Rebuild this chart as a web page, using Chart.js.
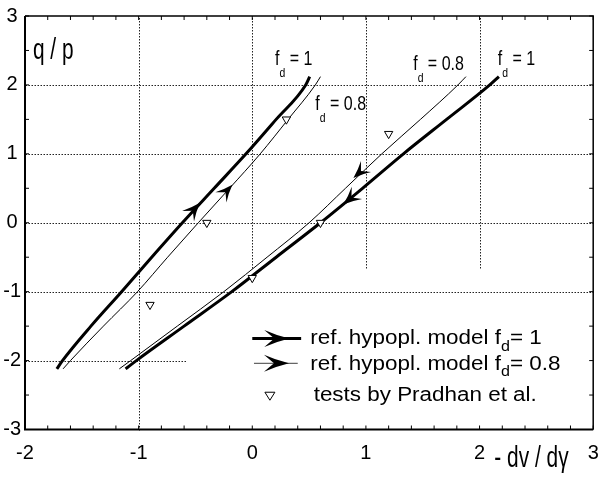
<!DOCTYPE html>
<html lang="en">
<head>
<meta charset="utf-8">
<title>q/p against -dv/dγ</title>
<script src="https://cdn.jsdelivr.net/npm/chart.js@4.4.0/dist/chart.umd.min.js"></script>
<style>
  body { margin: 0; background: #fff; }
  #wrap { width: 599px; height: 481px; }
</style>
</head>
<body>
<div id="wrap"><canvas id="myChart" width="599" height="481"></canvas></div>
<script>
// hypoplastic model, f_d = 1 (thick) : loading and unloading branches
var fd1LoadX = [-1.72, -1.67, -1.42, -1.15, -0.885, -0.615, -0.335, -0.055, 0.21, 0.47, 0.505];
var fd1LoadY = [-2.12, -2.00, -1.50, -1.00, -0.50, 0.00, 0.50, 1.00, 1.50, 2.00, 2.12];
var fd1UnloadX = [-1.115, -1.02, -0.60, -0.18, 0.21, 0.60, 0.97, 1.33, 1.71, 2.09, 2.17];
var fd1UnloadY = [-2.12, -2.00, -1.50, -1.00, -0.50, 0.00, 0.50, 1.00, 1.50, 2.00, 2.12];

// hypoplastic model, f_d = 0.8 (thin)
var fd08LoadX = [-1.665, -1.60, -1.31, -1.01, -0.745, -0.475, -0.20, 0.07, 0.315, 0.555, 0.60];
var fd08LoadY = [-2.12, -2.00, -1.50, -1.00, -0.50, 0.00, 0.50, 1.00, 1.50, 2.00, 2.12];
var fd08UnloadX = [-1.17, -1.07, -0.66, -0.25, 0.13, 0.50, 0.82, 1.14, 1.48, 1.81, 1.88];
var fd08UnloadY = [-2.12, -2.00, -1.50, -1.00, -0.50, 0.00, 0.50, 1.00, 1.50, 2.00, 2.12];

// tests by Pradhan et al.
var testX = [0.30, 1.20, -0.40, 0.60, 0.00, -0.90];
var testY = [1.50, 1.29, 0.00, 0.00, -0.80, -1.19];

// arrow heads: [tailX, tailY, tipX, tipY]
var arrowsThick = [[-0.56, 0.105, -0.46, 0.29], [0.90, 0.405, 0.80, 0.265]];
var arrowsThin = [[-0.275, 0.37, -0.175, 0.55], [0.99, 0.80, 0.89, 0.65]];

var xTicks = [-2, -1, 0, 1, 2, 3];
var yTicks = [-3, -2, -1, 0, 1, 2, 3];

function pts(xs, ys) {
  var out = [];
  for (var i = 0; i < xs.length; i++) out.push({x: xs[i], y: ys[i]});
  return out;
}

var NARROW = "'Liberation Sans Narrow', 'Liberation Sans', sans-serif";
var SANS = "'Liberation Sans', Arial, sans-serif";

function P(chart, x, y) {
  return [chart.scales.x.getPixelForValue(x), chart.scales.y.getPixelForValue(y)];
}

// text with a horizontal squeeze/stretch, returns drawn width
function txt(ctx, s, x, y, size, sx, family) {
  ctx.save();
  ctx.translate(x, y);
  ctx.scale(sx, 1);
  ctx.font = size + 'px ' + family;
  ctx.textBaseline = 'alphabetic';
  ctx.textAlign = 'left';
  ctx.fillText(s, 0, 0);
  var w = ctx.measureText(s).width * sx;
  ctx.restore();
  return w;
}

function arrowHead(ctx, tail, tip, len, half) {
  var a = Math.atan2(tip[1] - tail[1], tip[0] - tail[0]);
  ctx.save();
  ctx.translate(tip[0], tip[1]);
  ctx.rotate(a);
  ctx.beginPath();
  ctx.moveTo(0, 0);
  ctx.quadraticCurveTo(-len * 0.55, half * 0.4, -len, half);
  ctx.lineTo(-len * 0.6, 0);
  ctx.lineTo(-len, -half);
  ctx.quadraticCurveTo(-len * 0.55, -half * 0.4, 0, 0);
  ctx.closePath();
  ctx.fillStyle = '#000';
  ctx.fill();
  ctx.restore();
}

// "f" with subscript d, then the rest
function fdLabel(ctx, x, y, rest, size, sx, subSize, drop, family) {
  var w = txt(ctx, 'f', x, y, size, sx, family);
  w += txt(ctx, 'd', x + w, y + drop, subSize, sx, family);
  w += txt(ctx, rest, x + w, y, size, sx, family);
  return w;
}

var decor = {
  id: 'decor',
  beforeDatasetsDraw: function(chart) {
    var ctx = chart.ctx;
    ctx.save();
    ctx.strokeStyle = '#222';
    ctx.lineWidth = 1;
    ctx.setLineDash([1.5, 1.5]);
    // dotted grid, cut away where the key sits
    var segs = [
      [-1, -3, -1, 3], [0, -0.65, 0, 3], [1, -0.65, 1, 3], [2, -0.65, 2, 3],
      [-2, 2, 3, 2], [-2, 1, 3, 1], [-2, 0, 3, 0], [-2, -1, 3, -1], [-2, -2, -0.58, -2]
    ];
    segs.forEach(function(s) {
      var a = P(chart, s[0], s[1]), b = P(chart, s[2], s[3]);
      ctx.beginPath();
      ctx.moveTo(Math.round(a[0]) + 0.5, Math.round(a[1]) + 0.5);
      ctx.lineTo(Math.round(b[0]) + 0.5, Math.round(b[1]) + 0.5);
      ctx.stroke();
    });
    ctx.restore();
  },
  afterDatasetsDraw: function(chart) {
    var ctx = chart.ctx, ca = chart.chartArea;
    ctx.save();
    // frame
    ctx.strokeStyle = '#000';
    ctx.lineWidth = 2;
    ctx.beginPath();
    ctx.moveTo(ca.left, ca.top); ctx.lineTo(ca.left, ca.bottom); ctx.lineTo(ca.right, ca.bottom);
    ctx.stroke();
    ctx.lineWidth = 1.5;
    ctx.beginPath();
    ctx.moveTo(ca.left, ca.top); ctx.lineTo(ca.right, ca.top); ctx.lineTo(ca.right, ca.bottom);
    ctx.stroke();
    // inward minor ticks
    ctx.lineWidth = 1;
    var i, p;
    for (i = -20; i <= 30; i += 2) {
      p = chart.scales.x.getPixelForValue(i / 10);
      ctx.beginPath();
      ctx.moveTo(p, ca.top); ctx.lineTo(p, ca.top + 4);
      ctx.moveTo(p, ca.bottom); ctx.lineTo(p, ca.bottom - 4);
      ctx.stroke();
    }
    for (i = -30; i <= 30; i += 5) {
      p = chart.scales.y.getPixelForValue(i / 10);
      ctx.beginPath();
      ctx.moveTo(ca.left, p); ctx.lineTo(ca.left + 4, p);
      ctx.moveTo(ca.right, p); ctx.lineTo(ca.right - 4, p);
      ctx.stroke();
    }
    // direction arrows on the curves
    arrowsThick.forEach(function(a) {
      arrowHead(ctx, P(chart, a[0], a[1]), P(chart, a[2], a[3]), 18, 8);
    });
    arrowsThin.forEach(function(a) {
      arrowHead(ctx, P(chart, a[0], a[1]), P(chart, a[2], a[3]), 17, 7.5);
    });

    ctx.fillStyle = '#000';
    // axis titles
    var q = P(chart, -1.93, 2.38);
    txt(ctx, 'q / p', q[0], q[1], 29, 0.72, SANS);
    var d = P(chart, 2.13, -3.55);
    txt(ctx, '- dv / dγ', d[0], d[1], 29, 0.72, SANS);

    // curve labels
    var l;
    l = P(chart, 0.20, 2.29); fdLabel(ctx, l[0], l[1], ' = 1', 20, 0.8, 13, 12, SANS);
    l = P(chart, 0.555, 1.64); fdLabel(ctx, l[0], l[1], ' = 0.8', 20, 0.8, 13, 12, SANS);
    l = P(chart, 1.416, 2.22); fdLabel(ctx, l[0], l[1], ' = 0.8', 20, 0.8, 13, 12, SANS);
    l = P(chart, 2.16, 2.29); fdLabel(ctx, l[0], l[1], ' = 1', 20, 0.8, 13, 12, SANS);

    // key symbols
    var a0 = P(chart, 0.0, -1.68), a1 = P(chart, 0.43, -1.68);
    ctx.strokeStyle = '#000';
    ctx.lineWidth = 3;
    ctx.beginPath(); ctx.moveTo(a0[0], a0[1]); ctx.lineTo(a1[0], a1[1]); ctx.stroke();
    arrowHead(ctx, [a0[0], a0[1]], [a0[0] + 37, a0[1]], 25, 8.5);
    var b0 = P(chart, 0.015, -2.04), b1 = P(chart, 0.40, -2.04);
    ctx.strokeStyle = '#666';
    ctx.lineWidth = 1.2;
    ctx.beginPath(); ctx.moveTo(b0[0], b0[1]); ctx.lineTo(b1[0], b1[1]); ctx.stroke();
    arrowHead(ctx, [b0[0], b0[1]], [b0[0] + 35, b0[1]], 25, 8.5);
    var t = P(chart, 0.155, -2.51);
    ctx.beginPath();
    ctx.moveTo(t[0] - 5, t[1] - 3.5); ctx.lineTo(t[0] + 5, t[1] - 3.5); ctx.lineTo(t[0], t[1] + 4.5); ctx.closePath();
    ctx.fillStyle = '#fff'; ctx.fill();
    ctx.strokeStyle = '#000'; ctx.lineWidth = 1; ctx.stroke();

    // key text, model lines carry a subscript d
    ctx.fillStyle = '#000';
    var k1 = P(chart, 0.51, -1.76), k2 = P(chart, 0.51, -2.13), k3 = P(chart, 0.54, -2.59);
    var w;
    w = txt(ctx, 'ref. hypopl. model f', k1[0], k1[1], 19.5, 1.15, SANS);
    w += txt(ctx, 'd', k1[0] + w, k1[1] + 6.5, 14, 1.15, SANS);
    txt(ctx, '= 1', k1[0] + w, k1[1], 19.5, 1.15, SANS);
    w = txt(ctx, 'ref. hypopl. model f', k2[0], k2[1], 19.5, 1.15, SANS);
    w += txt(ctx, 'd', k2[0] + w, k2[1] + 6.5, 14, 1.15, SANS);
    txt(ctx, '= 0.8', k2[0] + w, k2[1], 19.5, 1.15, SANS);
    txt(ctx, 'tests by Pradhan et al.', k3[0], k3[1], 19.5, 1.15, SANS);
    ctx.restore();
  }
};

var thick = {borderColor: '#000', borderWidth: 3, pointRadius: 0, showLine: true, fill: false, cubicInterpolationMode: 'monotone'};
var thin = {borderColor: '#000', borderWidth: 1, pointRadius: 0, showLine: true, fill: false, cubicInterpolationMode: 'monotone'};

function line(base, label, xs, ys) {
  return Object.assign({label: label, data: pts(xs, ys)}, base);
}

var ctx = document.getElementById('myChart').getContext('2d');
var myChart = new Chart(ctx, {
  type: 'scatter',
  data: {
    datasets: [
      {
        label: 'tests by Pradhan et al.',
        data: pts(testX, testY),
        pointStyle: 'triangle',
        rotation: 180,
        pointRadius: 4.8,
        backgroundColor: '#fff',
        borderColor: '#000',
        borderWidth: 1,
        showLine: false
      },
      line(thick, 'f_d = 1 loading', fd1LoadX, fd1LoadY),
      line(thick, 'f_d = 1 unloading', fd1UnloadX, fd1UnloadY),
      line(thin, 'f_d = 0.8 loading', fd08LoadX, fd08LoadY),
      line(thin, 'f_d = 0.8 unloading', fd08UnloadX, fd08UnloadY)
    ]
  },
  options: {
    responsive: false,
    animation: false,
    layout: {padding: {top: 16, right: 4, left: 0, bottom: 0}},
    plugins: {legend: {display: false}, tooltip: {enabled: false}},
    scales: {
      x: {
        type: 'linear', min: -2, max: 3,
        grid: {display: false, drawTicks: true, tickLength: 12}, border: {display: false},
        afterBuildTicks: function(s) { s.ticks = xTicks.map(function(v) { return {value: v}; }); },
        afterFit: function(s) { s.height = 51.5; },
        ticks: {color: '#000', padding: 0, maxRotation: 0, font: {family: NARROW, size: 20}}
      },
      y: {
        type: 'linear', min: -3, max: 3,
        grid: {display: false, drawTicks: false}, border: {display: false},
        afterBuildTicks: function(s) { s.ticks = yTicks.map(function(v) { return {value: v}; }); },
        afterFit: function(s) { s.width = 25; },
        ticks: {color: '#000', padding: 4, crossAlign: 'center', font: {family: NARROW, size: 20}}
      }
    }
  },
  plugins: [decor]
});
</script>
</body>
</html>
